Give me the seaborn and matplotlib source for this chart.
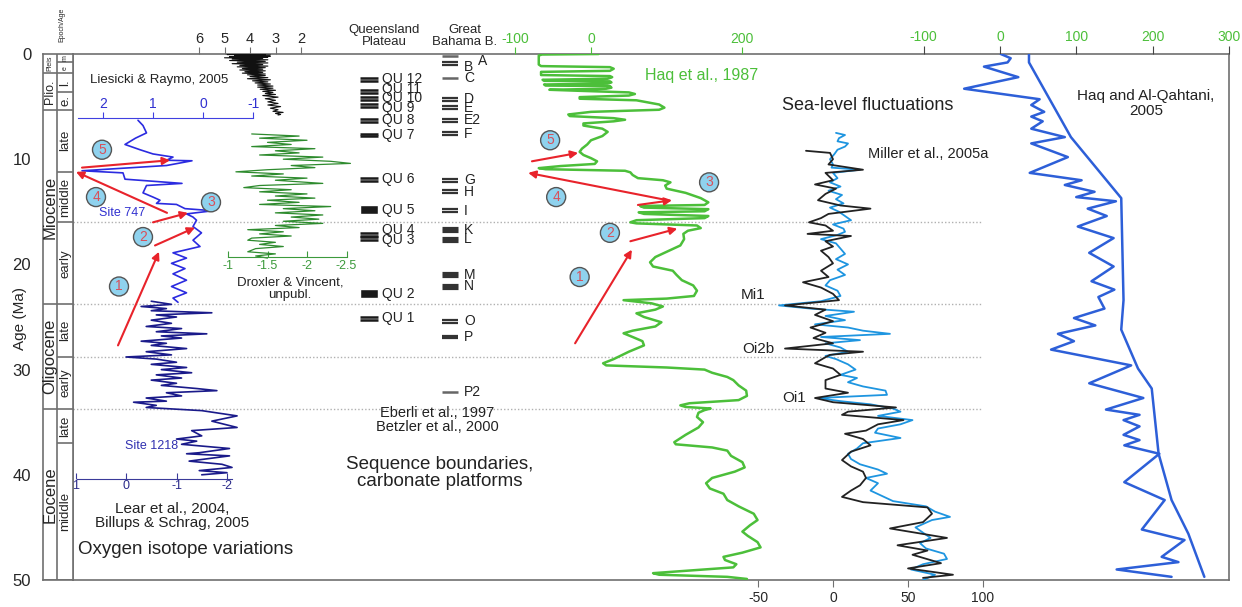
import matplotlib
matplotlib.use("Agg")
import matplotlib.pyplot as plt
import seaborn as sns

sns.set_style("white")
plt.rcParams['font.family'] = ['Liberation Sans', 'DejaVu Sans']
plt.rcParams['axes.unicode_minus'] = False

# ---------------- data (ages in Ma) ----------------
# Liesicki & Raymo, 2005 (benthic d18O)
lr_age = [0.0, 0.05, 0.1, 0.15, 0.2, 0.25, 0.3, 0.36, 0.42, 0.48, 0.55, 0.62, 0.7, 0.78, 0.85,
          0.92, 1.0, 1.08, 1.15, 1.22, 1.3, 1.38, 1.45, 1.52, 1.6, 1.68, 1.75, 1.82, 1.9, 1.98,
          2.05, 2.15, 2.25, 2.35, 2.45, 2.55, 2.65, 2.75, 2.85, 2.95, 3.05, 3.15, 3.25, 3.35,
          3.45, 3.55, 3.65, 3.75, 3.85, 3.95, 4.1, 4.25, 4.4, 4.55, 4.7, 4.85, 5.0, 5.15, 5.3,
          5.45, 5.55, 5.65, 5.75, 5.8]
lr_d18o = [3.2, 4.9, 3.4, 4.6, 3.2, 4.8, 3.3, 5.0, 3.5, 4.7, 3.3, 4.8, 3.4, 4.5, 3.3,
           4.7, 3.5, 4.4, 3.3, 4.5, 3.4, 4.3, 3.5, 4.4, 3.4, 4.2, 3.5, 4.3, 3.4, 4.1,
           3.4, 4.0, 3.3, 4.1, 3.2, 3.9, 3.3, 3.8, 3.2, 3.7, 3.1, 3.7, 3.1, 3.6,
           3.0, 3.5, 3.1, 3.4, 3.0, 3.5, 2.9, 3.4, 3.0, 3.3, 2.9, 3.3, 2.8, 3.2, 2.9,
           3.1, 2.7, 3.0, 2.8, 2.9]

# Site 747
s747_age = [6.3, 6.8, 7.5, 8.0, 8.6, 9.1, 9.5, 9.8, 10.1, 10.15, 10.6, 11.1, 11.3, 11.9, 12.3,
            12.5, 13.2, 13.6, 13.9, 14.2, 14.3, 14.7, 14.9, 15.2, 15.5, 15.8, 16.4, 17.0, 17.7,
            18.3, 18.9, 19.4, 19.9, 20.4, 20.9, 21.5, 22.1, 22.7, 23.2, 23.6]
s747_d18o = [1.3, 1.2, 1.13, 1.35, 1.56, 1.26, 1.0, 0.6, 0.73, 0.22, 0.73, 2.42, 1.6, 1.56, 0.42,
             1.13, 1.2, 1.0, 0.86, 0.93, 0.53, 0.36, -0.2, 0.33, 0.2, 0.13, 0.2, 0.03, 0.2,
             0.06, 0.6, 0.33, 0.63, 0.36, 0.6, 0.33, 0.63, 0.33, 0.6, 0.5]

# Site 1218
s1218_age = [23.5, 23.8, 24.0, 24.2, 24.4, 24.6, 24.8, 25.0, 25.3, 25.6, 25.9, 26.1, 26.4, 26.6,
             26.8, 27.0, 27.3, 27.5, 27.7, 28.0, 28.3, 28.6, 28.8, 29.0, 29.3, 29.5, 29.8, 30.0,
             30.3, 30.5, 30.8, 31.0, 31.3, 31.5, 31.8, 32.0, 32.2, 32.5, 32.7, 33.0, 33.1, 33.4,
             33.6, 33.9, 34.4, 34.9, 35.5, 35.8, 36.3, 36.6, 36.8, 37.1, 37.5, 37.9, 38.0, 38.2,
             38.7, 39.0, 39.3, 39.6, 39.8, 40.0]
s1218_d18o = [-0.5, -0.9, -0.3, -0.8, -0.5, -1.7, -0.6, -1.0, -0.5, -0.9, -0.4, -1.1, -0.6, -1.6,
              -0.7, -1.1, -0.3, -0.8, -0.5, -1.2, -0.4, -0.9, 0.0, -0.6, -1.0, -0.5, -1.2, -0.7,
              -1.3, -0.6, -1.1, -0.5, -1.0, -0.7, -1.4, -1.8, -0.8, -1.1, -0.4, -0.8, -0.15, -0.6,
              -0.4, -1.5, -2.2, -1.7, -2.2, -1.3, -1.5, -1.0, -1.4, -1.1, -2.05, -1.45, -1.2, -2.05,
              -1.25, -1.9, -2.1, -1.45, -2.0, -1.5]

# Droxler & Vincent, unpubl.
dv_age = [7.6, 7.8, 8.0, 8.2, 8.4, 8.6, 8.8, 9.0, 9.2, 9.4, 9.6, 9.8, 10.0, 10.2, 10.4, 10.6,
          10.8, 11.0, 11.2, 11.4, 11.6, 11.8, 12.0, 12.3, 12.5, 12.7, 12.9, 13.1, 13.3, 13.5,
          13.7, 13.9, 14.1, 14.3, 14.5, 14.7, 14.9, 15.1, 15.3, 15.5, 15.7, 15.9, 16.1, 16.3,
          16.5, 16.7, 16.9, 17.1, 17.3, 17.5, 17.7, 17.9, 18.1, 18.3, 18.5, 18.8, 19.0, 19.2, 19.4]
dv_d18o = [-1.3, -1.9, -1.4, -2.0, -1.5, -1.8, -1.3, -2.1, -1.6, -1.9, -1.4, -2.2, -1.7, -2.3,
           -2.55, -1.8, -2.1, -1.5, -1.1, -1.7, -1.3, -2.0, -1.6, -2.2, -1.4, -1.2, -1.8, -1.4,
           -2.0, -1.6, -2.1, -1.5, -1.9, -1.4, -2.3, -1.7, -2.1, -1.6, -2.2, -1.8, -2.15, -1.7,
           -2.2, -1.6, -1.9, -1.25, -1.7, -1.4, -1.8, -1.3, -1.25, -1.6, -1.4, -1.7, -1.35, -1.25,
           -1.6, -1.35, -1.5]

# Haq et al., 1987 sea level (m)
haq87_age = [0.0, 0.05, 0.15, 1.0, 1.15, 1.25, 1.4, 1.6, 1.7, 2.0, 2.1, 2.2, 2.35, 2.45, 2.55,
             2.6, 2.7, 2.8, 2.9, 3.0, 3.05, 3.2, 3.3, 3.4, 3.5, 3.65, 3.8, 3.95, 4.1, 4.25, 4.4,
             4.8, 5.1, 5.3, 5.5, 5.75, 5.9, 6.1, 6.25, 6.4, 6.6, 6.8, 7.1, 7.4, 7.8, 8.2, 8.6,
             9.0, 9.3, 9.6, 9.9, 10.2, 10.45, 10.65, 10.85, 10.95, 11.1, 11.25, 11.5, 11.8, 12.0,
             12.2, 12.5, 12.8, 13.2, 13.7, 14.1, 14.35, 14.45, 14.6, 14.75, 14.95, 15.05, 15.2,
             15.4, 15.6, 15.8, 16.0, 16.1, 16.3, 16.55, 16.8, 17.1, 17.6, 18.2, 18.8, 19.3, 19.8,
             20.2, 20.6, 21.0, 21.5, 22.0, 22.5, 23.0, 23.25, 23.4, 23.7, 24.0, 24.3, 24.65, 25.0,
             25.5, 25.9, 26.3, 26.55, 26.9, 27.3, 27.7, 28.3, 29.0, 29.4, 29.6, 29.8, 30.0, 30.3,
             30.7, 31.0, 31.5, 32.0, 32.5, 32.9, 33.2, 33.4, 33.55, 33.7, 33.85, 34.1, 34.5, 35.0,
             35.5, 36.2, 36.9, 37.1, 37.4, 37.7, 38.2, 38.8, 39.3, 39.7, 40.3, 40.8, 41.3, 41.8,
             42.4, 43.0, 43.7, 44.3, 44.8, 45.4, 45.8, 46.4, 46.9, 47.4, 47.8, 48.1, 48.5, 48.8,
             49.1, 49.35, 49.5, 49.7, 49.9]
haq87_sl = [10, -65, -69, -69, -66, 25, 30, 25, -66, -66, 25, 28, 22, -64, -62,
            25, 27, 22, -62, -60, 25, 27, 20, -55, -15, 50, 58, 50, -15, -15, 60,
            90, 97, 90, 0, -30, -28, 30, 45, 30, -10, -10, 15, 22, 15, 0, -5,
            -12, -15, -10, 0, 8, 5, -40, -69, -60, 45, 52, 55, 62, 95,
            105, 98, 100, 125, 145, 155, 150, 65, 70, 155, 150, 63, 70,
            155, 150, 60, 52, 60, 140, 145, 128, 122, 123, 118, 100, 85, 78,
            82, 108, 113, 120, 135, 140, 136, 100, 43, 80, 95, 85, 60, 70,
            93, 85, 55, 43, 55, 68, 70, 50, 30, 16, 20, 100, 150, 160,
            180, 188, 195, 205, 206, 195, 130, 118, 125, 158, 150, 142, 140, 148,
            142, 125, 110, 112, 160, 180, 185, 200, 203, 190, 160, 152, 157, 175,
            180, 195, 215, 220, 210, 200, 207, 220, 224, 200, 175, 177, 192, 188,
            130, 82, 90, 180, 206]

# Miller et al., 2005a (two records)
miller_bu_age = [7.5, 7.7, 8.0, 8.3, 8.5, 8.8, 9.1, 9.5, 10.0, 10.5, 10.8, 11.0, 11.3, 11.8, 12.2,
                 12.6, 13.0, 13.4, 13.8, 14.2, 14.6, 15.0, 15.4, 15.8, 16.2, 16.6, 16.9, 17.2,
                 17.6, 18.0, 18.5, 19.0, 19.5, 20.0, 20.5, 21.0, 21.5, 22.0, 22.5, 23.0, 23.5,
                 23.9, 24.2, 24.5, 24.9, 25.3, 25.7, 26.0, 26.3, 26.6, 26.9, 27.2, 27.5, 27.9,
                 28.3, 28.7, 29.0, 29.5, 30.0, 30.5, 30.8, 31.2, 31.6, 32.0, 32.4, 32.7, 33.0,
                 33.3, 33.7, 34.0, 34.4, 34.8, 35.2, 35.6, 36.0, 36.5, 37.0, 37.5, 38.0, 38.5,
                 39.0, 39.5, 39.9, 40.3, 40.8, 41.5, 42.5, 43.0, 43.5, 44.0, 44.3, 45.0, 45.5,
                 46.0, 46.5, 47.0, 47.5, 48.0, 48.5, 49.0, 49.5, 50.0]
miller_bu_sl = [2, 8, 4, 3, 10, 8, 3, 1, -2, 0, -1, 18, 0, 3, -2,
                5, -3, 6, 2, 7, -2, 4, 8, 12, 0, 7, 8, 3,
                -8, 2, 5, 8, 2, 10, 3, 8, -2, -5, 3, 5, -8,
                -36, -15, 14, -5, 8, -12, 10, 20, 38, -8, 18, -5, 5,
                10, -5, 2, 10, 15, 5, 16, 10, 20, 35, 36, -10, 5,
                25, 40, 45, 30, 53, 45, 30, 28, 45, 20, 16, 10, 12,
                18, 30, 36, 22, 30, 25, 40, 62, 68, 78, 66, 55, 60,
                65, 58, 62, 74, 76, 60, 52, 68, 60]
miller_bl_age = [9.2, 9.4, 10.0, 10.5, 11.0, 11.3, 12.0, 12.4, 12.8, 13.3, 13.9, 14.4, 14.7, 15.2,
                 15.6, 16.0, 16.3, 16.8, 17.1, 17.3, 17.8, 18.3, 18.7, 19.3, 19.9, 20.6, 21.2,
                 21.7, 22.2, 22.8, 23.4, 23.9, 24.3, 24.8, 25.4, 26.0, 26.5, 27.0, 27.5, 28.0,
                 28.3, 28.6, 28.9, 29.4, 29.9, 30.5, 31.0, 31.8, 32.2, 32.7, 33.1, 33.6, 34.0,
                 34.3, 34.8, 35.2, 35.8, 36.1, 36.6, 37.2, 37.8, 38.6, 39.2, 39.7, 40.3, 41.0,
                 41.5, 42.1, 42.6, 43.1, 43.7, 44.5, 45.1, 46.0, 46.7, 47.2, 47.6, 48.4, 48.9,
                 49.5, 49.8]
miller_bl_sl = [-18, -2, 0, -3, 20, -5, 0, -12, 2, -5, -10, 5, 25, -3,
                -8, -16, -5, 0, -17, 12, -5, 0, -8, -3, 0, -8, -3,
                -20, -8, 0, 4, -32, -5, -12, 0, -15, -5, -13, 0, -32,
                20, -2, -6, -12, 0, 5, -5, -5, 10, -12, 0, 42, 10,
                6, 47, 30, 22, 8, 20, 25, 12, 6, 12, 20, 22, 18,
                12, 6, 20, 63, 66, 60, 38, 76, 43, 63, 53, 72, 50,
                80, 60]

# Haq and Al-Qahtani, 2005: short-term and long-term curves
hq05_age = [0.0, 0.4, 0.8, 1.2, 2.2, 3.3, 4.3, 4.85, 5.5, 5.95, 6.4, 7.1, 7.9, 8.5, 9.8, 11.3,
            12.0, 12.45, 13.1, 13.6, 14.0, 14.7, 15.4, 16.4, 17.5, 18.9, 20.2, 21.6, 22.4, 23.1,
            24.2, 25.1, 25.8, 26.6, 27.3, 28.1, 29.6, 31.3, 32.7, 33.8, 34.3, 34.8, 35.4, 36.2,
            36.7, 37.2, 38.0, 40.7, 42.4, 45.2, 46.2, 47.8, 48.3, 49.0, 49.7]
hq05_sl = [1, 14, 10, -21, 24, -47, 52, 41, 58, 41, 56, 41, 85, 41, 89, 39,
           107, 85, 124, 100, 152, 115, 140, 102, 149, 117, 149, 120, 150, 129,
           137, 97, 125, 76, 97, 67, 172, 117, 188, 139, 183, 162, 183, 162,
           183, 163, 209, 163, 216, 186, 242, 212, 234, 153, 225]
hq05_lt_age = [0.0, 0.8, 7.9, 13.7, 23.4, 26.2, 29.9, 31.8, 38.0, 42.4, 45.6, 49.7]
hq05_lt_sl = [38, 38, 93, 159, 162, 159, 181, 199, 208, 225, 247, 268]

# Time scale
epoch_names = ["Pleis", "Plio.", "Miocene", "Oligocene", "Eocene"]
epoch_base = [1.8, 5.3, 23.8, 33.7, 50.0]
stage_names = ["m", "e", "l.", "e.", "late", "middle", "early", "late", "early", "late", "middle"]
stage_base = [0.8, 1.8, 3.6, 5.3, 11.2, 16.0, 23.8, 28.8, 33.7, 37.0, 50.0]
marker_ages = [16.0, 23.8, 28.8, 33.7]

# Sequence boundaries
qp_names = ["QU 12", "QU 11", "QU 10", "QU 9", "QU 8", "QU 7", "QU 6", "QU 5", "QU 4", "QU 3", "QU 2", "QU 1"]
qp_ages = [2.4, 3.6, 4.2, 4.9, 6.3, 7.7, 11.9, 14.8, 17.15, 17.5, 22.8, 25.1]
qp_label_ages = [2.4, 3.3, 4.2, 5.1, 6.3, 7.7, 11.9, 14.8, 16.7, 17.7, 22.8, 25.1]
gbb_names = ["A", "B", "C", "D", "E", "E2", "F", "G", "H", "I", "K", "L", "M", "N", "O", "P", "P2"]
gbb_ages = [0.2, 0.9, 2.3, 4.3, 5.1, 6.3, 7.6, 12.0, 13.1, 14.9, 16.7, 17.6, 21.0, 22.1, 25.4, 26.9, 32.1]

# ---------------- layout ----------------
W, H = 1242, 607
TOP, BOT = 54, 580
X0, X1 = 73, 1229
FRAME = "#707070"
GREEN = "#4cbf3a"
RED = "#e8232b"

fig = plt.figure(figsize=(W / 100, H / 100), dpi=100)


def rect(x0, x1):
    return [x0 / W, 1 - BOT / H, (x1 - x0) / W, (BOT - TOP) / H]


ax = fig.add_axes(rect(X0, X1))
ax.set_xlim(X0, X1)
ax.tick_params(left=False, labelleft=False, bottom=False, labelbottom=False)
for s in ax.spines.values():
    s.set_color(FRAME)
    s.set_linewidth(1.2)

# epoch / age column
ep = fig.add_axes(rect(43, X0), sharey=ax)
ep.set_xlim(43, X0)
ep.tick_params(bottom=False, labelbottom=False)
for s in ep.spines.values():
    s.set_color(FRAME)
    s.set_linewidth(1.2)
ep.set_yticks([0, 10, 20, 30, 40, 50])
ep.set_yticks(range(0, 51, 2), minor=True)
ep.tick_params(axis='y', which='major', direction='inout', length=13, labelsize=12, color=FRAME, pad=2)
ep.tick_params(axis='y', which='minor', direction='inout', length=7, color=FRAME)
ep.axvline(57, color=FRAME, lw=1.2)
ep.hlines(epoch_base, 43, 57, color=FRAME, lw=1.2)
ep.hlines(stage_base, 57, X0, color=FRAME, lw=1.2)
prev = 0
for name, base in zip(epoch_names, epoch_base):
    fs = 5 if name == "Pleis" else (9 if name == "Plio." else 12)
    ep.text(50, (prev + base) / 2, name, rotation=90, ha='center', va='center', fontsize=fs)
    prev = base
prev = 0
for name, base in zip(stage_names, stage_base):
    fs = 5 if len(name) == 1 else 9.5
    ep.text(65.5, (prev + base) / 2, name, rotation=90, ha='center', va='center', fontsize=fs)
    prev = base
fig.text(20 / W, 1 - 318 / H, "Age (Ma)", rotation=90, ha='center', va='center', fontsize=11)
fig.text(62 / W, 1 - 25 / H, "Epoch/Age", rotation=90, ha='center', va='center', fontsize=5)

ax.hlines(marker_ages, X0, 982, colors="#b0b0b0", linestyles=(0, (1, 1.5)), lw=1)


def overlay(px0, v0, px_per_unit):
    o = fig.add_axes(rect(X0, X1), sharey=ax)
    o.patch.set_visible(False)
    for s in o.spines.values():
        s.set_visible(False)
    o.tick_params(left=False, labelleft=False, bottom=False, labelbottom=False,
                  top=False, labeltop=False)
    o.set_xlim(v0 + (X0 - px0) / px_per_unit, v0 + (X1 - px0) / px_per_unit)
    return o


def curve(o, vals, ages, color, lw):
    lim = o.get_xlim()
    sns.lineplot(x=vals, y=ages, sort=False, estimator=None, ax=o, color=color, lw=lw,
                 legend=False, solid_joinstyle='round')
    o.set_xlim(lim)
    o.set_xlabel("")
    o.set_ylabel("")


def circled(o, x, y, label):
    o.text(x, y, label, ha='center', va='center', fontsize=10, color="#d8505a",
           bbox=dict(boxstyle='circle,pad=0.18', fc="#8fd2ee", ec="#555555", lw=1))


def arrow(o, x0, y0, x1, y1):
    o.annotate("", xy=(x1, y1), xytext=(x0, y0),
               arrowprops=dict(arrowstyle='-|>', color=RED, lw=1.5, mutation_scale=11,
                               shrinkA=0, shrinkB=0))


# Liesicki & Raymo
o_lr = overlay(199, 6, -25.5)
curve(o_lr, lr_d18o, lr_age, "#111111", 0.8)
o_lr.set_xticks([6, 5, 4, 3, 2])
o_lr.tick_params(axis='x', top=True, labeltop=True, direction='out', length=5,
                 color=FRAME, labelsize=10.5, pad=1)

# Site 747
o747 = overlay(203, 0, -50)
curve(o747, s747_d18o, s747_age, "#2b2be0", 1.2)
sp = o747.spines['top']
sp.set_visible(True)
sp.set_position(('data', 6.08))
sp.set_bounds(2.5, -1)
sp.set_color("#4040e0")
o747.set_xticks([2, 1, 0, -1])
o747.tick_params(axis='x', top=True, labeltop=True, direction='out', length=4,
                 color="#4040e0", labelcolor="#3030d0", labelsize=10, pad=1)

# Site 1218
o1218 = overlay(126, 0, -50.5)
curve(o1218, s1218_d18o, s1218_age, "#1a1a8a", 1.2)
sp = o1218.spines['bottom']
sp.set_visible(True)
sp.set_position(('data', 40.4))
sp.set_bounds(0.97, -2.1)
sp.set_color("#3a3a9a")
o1218.set_xticks([1, 0, -1, -2])
o1218.tick_params(axis='x', bottom=True, labelbottom=True, direction='in', length=4,
                  color="#3a3a9a", labelcolor="#2a2a8a", labelsize=9, pad=1)

# Droxler & Vincent
odv = overlay(228, -1, -79)
curve(odv, dv_d18o, dv_age, "#2e8b2e", 0.9)
sp = odv.spines['bottom']
sp.set_visible(True)
sp.set_position(('data', 19.3))
sp.set_bounds(-1, -2.5)
sp.set_color("#3c9a3c")
odv.set_xticks([-1, -1.5, -2, -2.5])
odv.set_xticklabels(["-1", "-1.5", "-2", "-2.5"])
odv.tick_params(axis='x', bottom=True, labelbottom=True, direction='in', length=4,
                color="#3c9a3c", labelcolor="#3c9a3c", labelsize=9, pad=2)

# arrows and circles on isotope panel
for x0, y0, x1, y1 in [(1.70, 27.7, 0.88, 18.8), (0.96, 18.2, 0.16, 16.5), (1.0, 16.0, 0.3, 15.1),
                       (0.72, 15.1, 2.54, 11.2), (2.42, 10.8, 0.66, 10.1)]:
    arrow(o747, x0, y0, x1, y1)
for i, (x, y) in enumerate([(1.68, 22.1), (1.2, 17.4), (-0.16, 14.1), (2.14, 13.6), (2.02, 9.1)]):
    circled(o747, x, y, str(i + 1))

# Haq et al. 1987
o87 = overlay(591, 0, 0.757)
curve(o87, haq87_sl, haq87_age, GREEN, 1.8)
o87.set_xticks([-100, 0, 200])
o87.tick_params(axis='x', top=True, labeltop=True, direction='out', length=5,
                color=GREEN, labelcolor=GREEN, labelsize=10, pad=1)
for x0, y0, x1, y1 in [(-21, 27.5, 54, 18.6), (52, 17.8, 114, 16.6), (62, 14.35, 107, 13.9),
                       (101, 13.9, -83, 11.3), (-78, 10.2, -17, 9.4)]:
    arrow(o87, x0, y0, x1, y1)
for i, (x, y) in enumerate([(-15, 21.2), (25, 17.0), (156, 12.2), (-46, 13.6), (-54, 8.2)]):
    circled(o87, x, y, str(i + 1))

# Miller et al. 2005a
omi = overlay(833, 0, 1.5)
curve(omi, miller_bu_sl, miller_bu_age, "#1e95e0", 1.3)
curve(omi, miller_bl_sl, miller_bl_age, "#222222", 1.3)
omi.set_xticks([-50, 0, 50, 100])
omi.tick_params(axis='x', bottom=True, labelbottom=True, direction='out', length=5,
                color=FRAME, labelsize=10, pad=3)

# Haq and Al-Qahtani 2005
ohq = overlay(1000, 0, 0.7625)
curve(ohq, hq05_sl, hq05_age, "#2d5fd8", 1.8)
curve(ohq, hq05_lt_sl, hq05_lt_age, "#2d5fd8", 1.8)
ohq.set_xticks([-100, 0, 100, 200, 300])
ohq.tick_params(axis='x', top=True, labeltop=True, direction='out', length=6,
                color="#444444", labelcolor=GREEN, labelsize=10, pad=1)

# sequence boundaries
for name, age in zip(qp_names, qp_ages):
    if name in ("QU 5", "QU 2"):
        ax.barh(age, 18, left=360, height=0.85, color="#1a1a1a")
    else:
        ax.hlines([age - 0.14, age + 0.14], 360, 378, color="#1a1a1a", lw=1.8)
for name, age in zip(qp_names, qp_label_ages):
    ax.text(382, age, name, ha='left', va='center', fontsize=10, color="#222222")
for name, age in zip(gbb_names, gbb_ages):
    if name in ("A", "C", "P2"):
        ax.hlines(age, 442, 458, color="#666666", lw=1.8)
    else:
        lw = 2.3 if name in ("K", "L", "M", "N") else 1.6
        ax.hlines([age - 0.14, age + 0.14], 442, 458, color="#333333", lw=lw)
    if name == "A":
        ax.text(478, age + 0.5, name, ha='left', va='center', fontsize=10, color="#222222")
    elif name == "B":
        ax.text(464, age + 0.35, name, ha='left', va='center', fontsize=10, color="#222222")
    else:
        ax.text(464, age, name, ha='left', va='center', fontsize=10, color="#222222")

# headers and labels
ax.text(384, -1.7, "Queensland\nPlateau", ha='center', va='center', fontsize=9.5, linespacing=0.95)
ax.text(465, -1.7, "Great\nBahama B.", ha='center', va='center', fontsize=9.5, linespacing=0.95)
ax.text(90, 2.47, "Liesicki & Raymo, 2005", ha='left', va='center', fontsize=9.5, color="#222222")
ax.text(122, 15.1, "Site 747", ha='center', va='center', fontsize=9, color="#3030d0")
ax.text(152, 37.3, "Site 1218", ha='center', va='center', fontsize=9, color="#3030b0")
ax.text(172, 43.9, "Lear et al., 2004,\nBillups & Schrag, 2005", ha='center', va='center',
        fontsize=11, color="#222222", linespacing=1.0)
ax.text(78, 47.1, "Oxygen isotope variations", ha='left', va='center', fontsize=13.5, color="#222222")
ax.text(290, 22.3, "Droxler & Vincent,\nunpubl.", ha='center', va='center', fontsize=9.5,
        color="#222222", linespacing=1.0)
ax.text(437, 34.8, "Eberli et al., 1997\nBetzler et al., 2000", ha='center', va='center',
        fontsize=10.5, color="#222222", linespacing=1.0)
ax.text(440, 39.8, "Sequence boundaries,\ncarbonate platforms", ha='center', va='center',
        fontsize=13.5, color="#222222", linespacing=1.0)
ax.text(645, 2.0, "Haq et al., 1987", ha='left', va='center', fontsize=11.5, color=GREEN)
ax.text(782, 4.85, "Sea-level fluctuations", ha='left', va='center', fontsize=13, color="#222222")
ax.text(868, 9.5, "Miller et al., 2005a", ha='left', va='center', fontsize=10.5, color="#222222")
ax.text(1146, 4.7, "Haq and Al-Qahtani,\n2005", ha='center', va='center', fontsize=11,
        color="#222222", linespacing=1.05)
ax.text(741, 22.9, "Mi1", ha='left', va='center', fontsize=11, color="#222222")
ax.text(742, 28.0, "Oi2b", ha='left', va='center', fontsize=11, color="#222222")
ax.text(782, 32.7, "Oi1", ha='left', va='center', fontsize=11, color="#222222")

ax.set_ylim(50, 0)
fig.savefig("out.png", dpi=100)
